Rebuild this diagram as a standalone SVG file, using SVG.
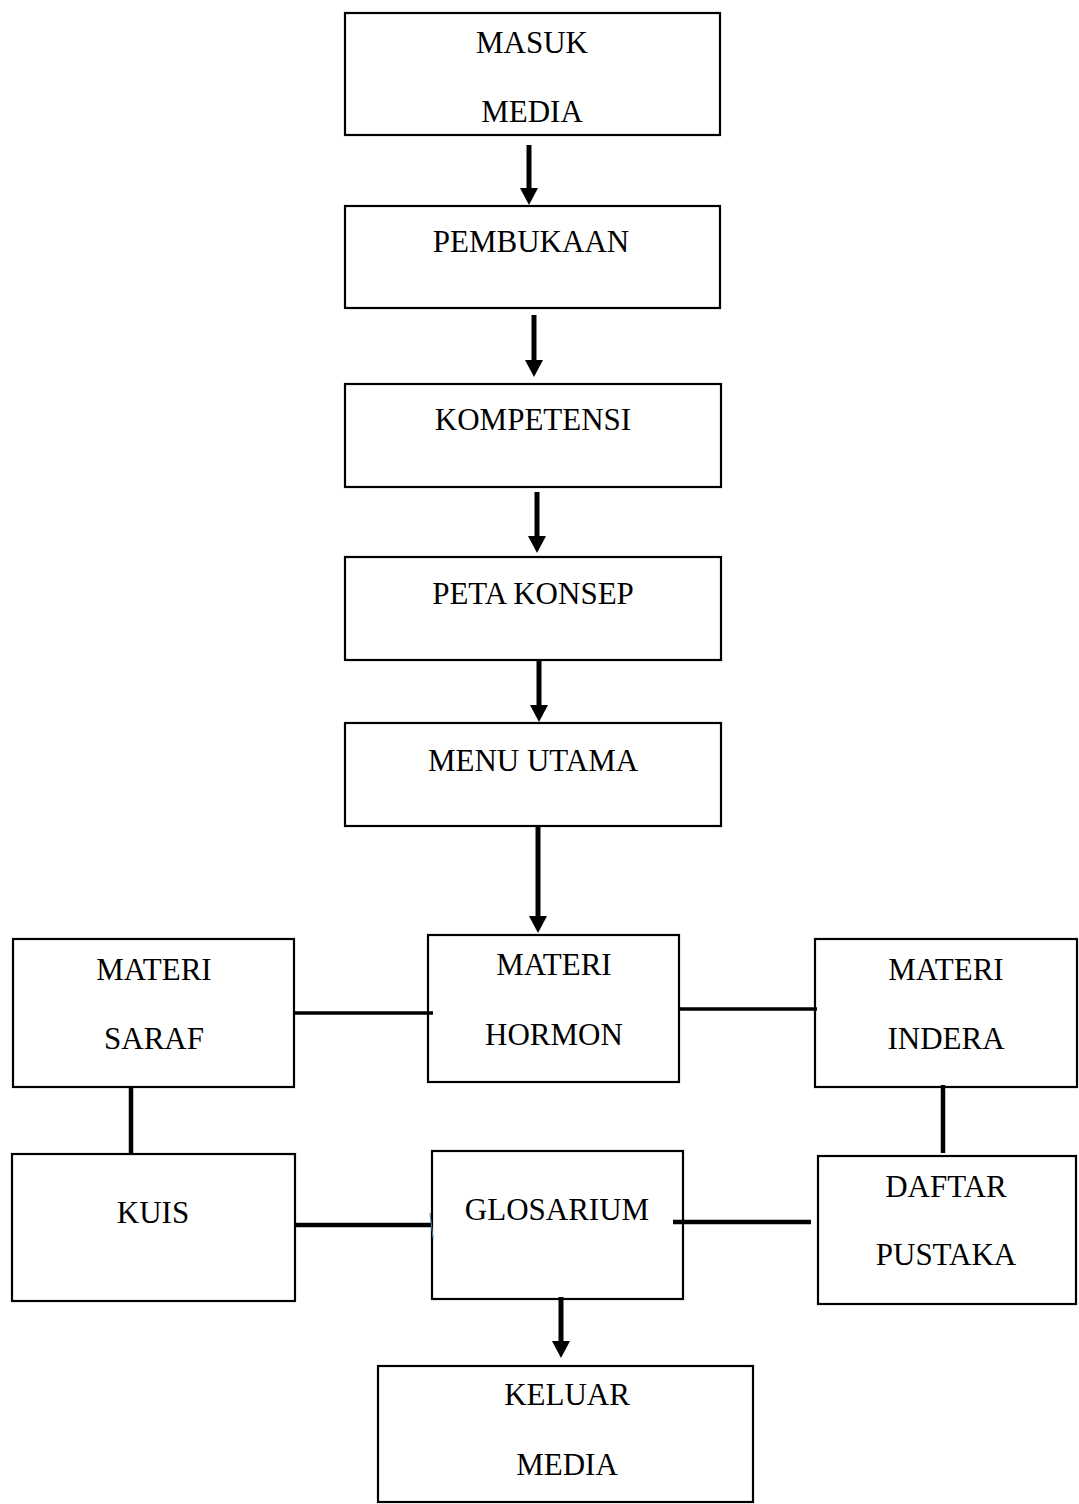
<svg xmlns="http://www.w3.org/2000/svg" width="1079" height="1504" viewBox="0 0 1079 1504">
<style>
.box{fill:#fff;stroke:#000;stroke-width:2.2}
.t{font-family:"Liberation Serif","Times New Roman",serif;font-size:31px;fill:#000;text-anchor:middle}
.arr{stroke:#000;stroke-width:5;fill:none}
.ln{stroke:#000;stroke-width:3.5;fill:none}
.lnb{stroke:#000;stroke-width:4.5;fill:none}
</style>
<defs>
<marker id="ah" markerUnits="userSpaceOnUse" markerWidth="18" markerHeight="19" refX="0" refY="9" orient="auto" viewBox="0 0 18 18">
<path d="M0,0 L17,9 L0,18 z" fill="#000"/>
</marker>
</defs>
<rect width="1079" height="1504" fill="#fff"/>
<g id="masuk"><rect class="box" x="345" y="13" width="375" height="122"/><text class="t" x="532" y="53">MASUK</text><text class="t" x="532" y="122">MEDIA</text></g>
<g id="pembukaan"><rect class="box" x="345" y="206" width="375" height="102"/><text class="t" x="531" y="252">PEMBUKAAN</text></g>
<g id="kompetensi"><rect class="box" x="345" y="384" width="376" height="103"/><text class="t" x="533" y="430">KOMPETENSI</text></g>
<g id="peta"><rect class="box" x="345" y="557" width="376" height="103"/><text class="t" x="533" y="604">PETA KONSEP</text></g>
<g id="menu"><rect class="box" x="345" y="723" width="376" height="103"/><text class="t" x="533" y="771">MENU UTAMA</text></g>
<g id="hormon"><rect class="box" x="428" y="935" width="251" height="147"/><text class="t" x="554" y="975">MATERI</text><text class="t" x="554" y="1045">HORMON</text></g>
<g id="saraf"><rect class="box" x="13" y="939" width="281" height="148"/><text class="t" x="154" y="980">MATERI</text><text class="t" x="154" y="1049">SARAF</text></g>
<g id="indera"><rect class="box" x="815" y="939" width="262" height="148"/><text class="t" x="946" y="980">MATERI</text><text class="t" x="946" y="1049">INDERA</text></g>
<g id="kuis"><rect class="box" x="12" y="1154" width="283" height="147"/><text class="t" x="153" y="1223">KUIS</text></g>
<g id="glosarium"><rect class="box" x="432" y="1151" width="251" height="148"/><text class="t" x="557" y="1220">GLOSARIUM</text></g>
<g id="daftar"><rect class="box" x="818" y="1156" width="258" height="148"/><text class="t" x="946" y="1197">DAFTAR</text><text class="t" x="946" y="1265">PUSTAKA</text></g>
<g id="keluar"><rect class="box" x="378" y="1366" width="375" height="136"/><text class="t" x="567" y="1405">KELUAR</text><text class="t" x="567" y="1475">MEDIA</text></g>
<g id="connectors">
<line class="arr" x1="529" y1="145" x2="529" y2="188" marker-end="url(#ah)"/>
<line class="arr" x1="534" y1="315" x2="534" y2="360" marker-end="url(#ah)"/>
<line class="arr" x1="537" y1="492" x2="537" y2="536" marker-end="url(#ah)"/>
<line class="arr" x1="539" y1="660" x2="539" y2="705" marker-end="url(#ah)"/>
<line class="arr" x1="538" y1="826" x2="538" y2="916" marker-end="url(#ah)"/>
<line class="arr" x1="561" y1="1297" x2="561" y2="1341" marker-end="url(#ah)"/>
<line class="ln" x1="294" y1="1013" x2="433" y2="1013"/>
<line class="ln" x1="679" y1="1009" x2="817" y2="1009"/>
<line class="lnb" x1="131" y1="1087" x2="131" y2="1155"/>
<line class="lnb" x1="943" y1="1085" x2="943" y2="1153"/>
<line class="lnb" x1="295" y1="1225" x2="432" y2="1225"/>
<line class="lnb" x1="673" y1="1222" x2="811" y2="1222"/>
<line x1="430" y1="1213" x2="433" y2="1238" stroke="#4a7ab0" stroke-width="1"/>
</g>
</svg>
